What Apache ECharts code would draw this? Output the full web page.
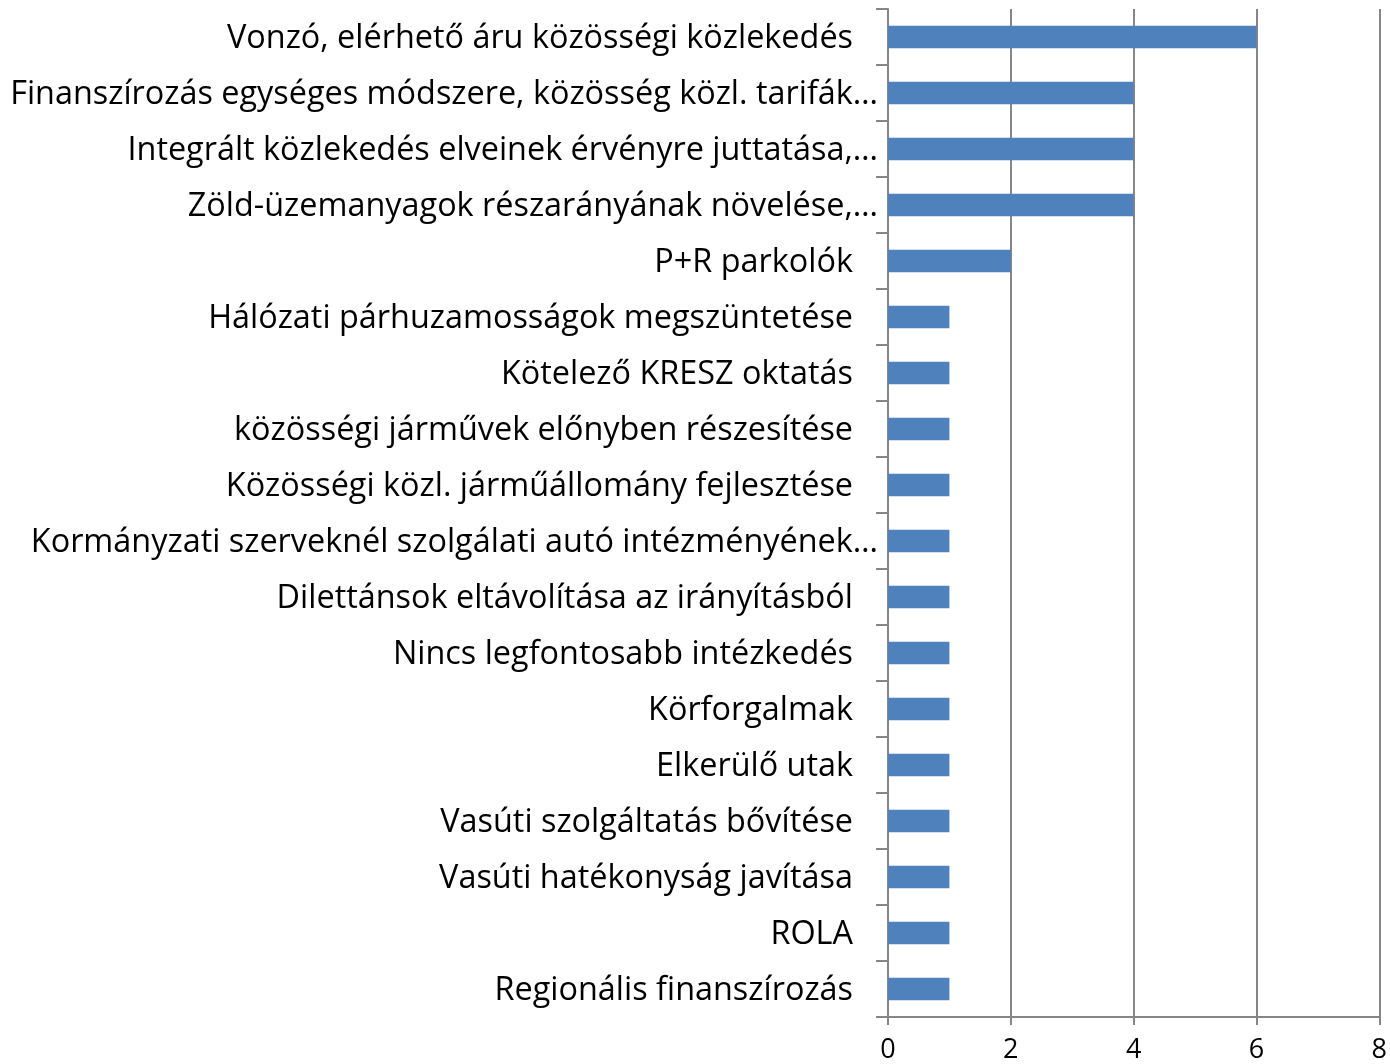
<!DOCTYPE html>
<html><head><meta charset="utf-8">
<script src="https://cdn.jsdelivr.net/npm/echarts@6/dist/echarts.min.js"></script>
<style>html,body{margin:0;padding:0;background:#fff}#c{width:1390px;height:1064px}</style>
</head><body><div id="c"></div>
<script>
const categories = [
  "Vonzó, elérhető áru közösségi közlekedés",
  "Finanszírozás egységes módszere, közösség közl. tarifák…",
  "Integrált közlekedés elveinek érvényre juttatása,…",
  "Zöld-üzemanyagok részarányának növelése,…",
  "P+R parkolók",
  "Hálózati párhuzamosságok megszüntetése",
  "Kötelező KRESZ oktatás",
  "közösségi járművek előnyben részesítése",
  "Közösségi közl. járműállomány fejlesztése",
  "Kormányzati szerveknél szolgálati autó intézményének…",
  "Dilettánsok eltávolítása az irányításból",
  "Nincs legfontosabb intézkedés",
  "Körforgalmak",
  "Elkerülő utak",
  "Vasúti szolgáltatás bővítése",
  "Vasúti hatékonyság javítása",
  "ROLA",
  "Regionális finanszírozás"
];
const values = [6, 4, 4, 4, 2, 1, 1, 1, 1, 1, 1, 1, 1, 1, 1, 1, 1, 1];
const xTicks = [0, 2, 4, 6, 8];

const FONT = '"Open Sans", "Noto Sans", sans-serif';
const FS = 32.4;
const chart = echarts.init(document.getElementById('c'), null, {renderer: 'canvas'});
chart.setOption({
  animation: false,
  grid: {left: 888, right: 6, top: 9, bottom: 46, containLabel: false},
  xAxis: {
    type: 'value', min: xTicks[0], max: xTicks[xTicks.length - 1], interval: 2,
    axisLine: {show: true, lineStyle: {color: '#868686', width: 2}},
    axisTick: {show: true, length: 8, lineStyle: {color: '#868686', width: 2}},
    axisLabel: {fontFamily: FONT, fontSize: 27, color: '#000', margin: 20},
    splitLine: {show: true, lineStyle: {color: '#868686', width: 2}}
  },
  yAxis: {
    type: 'category', data: categories, inverse: true,
    axisLine: {show: true, lineStyle: {color: '#868686', width: 2}},
    axisTick: {show: true, length: 12, lineStyle: {color: '#868686', width: 2}},
    axisLabel: {
      fontFamily: FONT, fontSize: FS, color: '#000', margin: 10,
      formatter: function (v) {
        return v.endsWith('…') ? '{e|' + v + '}' : '{n|' + v + '}';
      },
      rich: {
        n: {fontFamily: FONT, fontSize: FS, color: '#000', padding: [3, 25, 0, 0]},
        e: {fontFamily: FONT, fontSize: FS, color: '#000', padding: [3, 0, 0, 0]}
      }
    }
  },
  series: [{
    type: 'bar', data: values, barCategoryGap: '60%',
    itemStyle: {color: '#4F81BD'}
  }]
});
</script></body></html>
